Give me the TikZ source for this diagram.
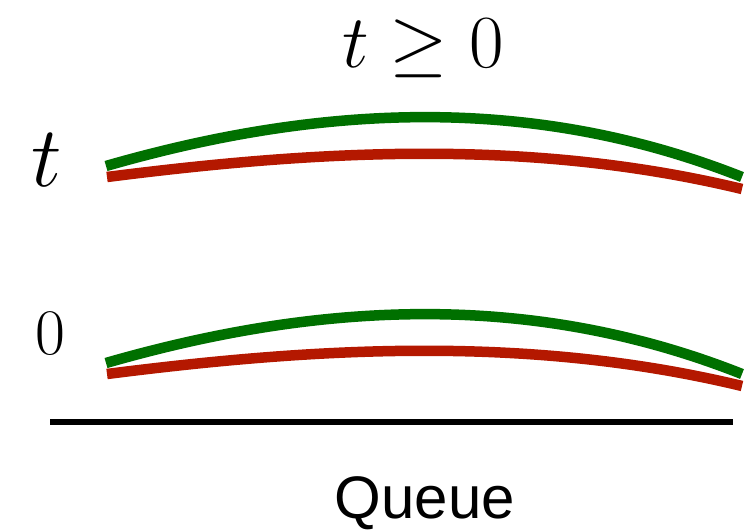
\RequirePackage{fix-cm}
\documentclass[tikz,border=0pt]{standalone}
\usepackage{fontspec}
\newfontfamily\queuefont{Liberation Sans}
\usepackage{tikz}
\definecolor{grass}{RGB}{0,112,0}
\definecolor{brick}{RGB}{180,24,0}
\tikzset{
  arcline/.style={draw=#1,line width=5.25pt},
  arcline/.default=grass,
  axis line/.style={draw=black,line width=2.65pt},
  lvl/.style={inner sep=0pt,anchor=base},
}
\begin{document}
\begin{tikzpicture}[x=0.5pt,y=-0.5pt]
        \useasboundingbox (0,0) rectangle (755,530);
        \node[lvl,font=\fontsize{37.5}{42}\selectfont] (cond) at (423,68) {$t \geq 0$};
        \node[lvl,font=\fontsize{43}{48}\selectfont] (tlev) at (47,186) {$t$};
        \node[lvl,font=\fontsize{32.5}{38}\selectfont] (zlev) at (50,354) {$0$};
        \foreach \y/\n in {0/t,197/z}{
          \coordinate (g\n l) at (106,166+\y); \coordinate (g\n r) at (742,177+\y);
          \coordinate (r\n l) at (107,177+\y); \coordinate (r\n r) at (742,189+\y);
          \draw[arcline=grass] (g\n l) .. controls +(212,-61) and +(-212,-84) .. (g\n r);
          \draw[arcline=brick] (r\n l) .. controls +(212,-27) and +(-212,-51) .. (r\n r);
        }
        \coordinate (axl) at (50,422); \coordinate (axr) at (733,422);
        \draw[axis line] (axl) -- (axr);
        \node[lvl,font=\queuefont\fontsize{30}{36}\selectfont] (queue) at (425,518) {Queue};
      \end{tikzpicture}
\end{document}
